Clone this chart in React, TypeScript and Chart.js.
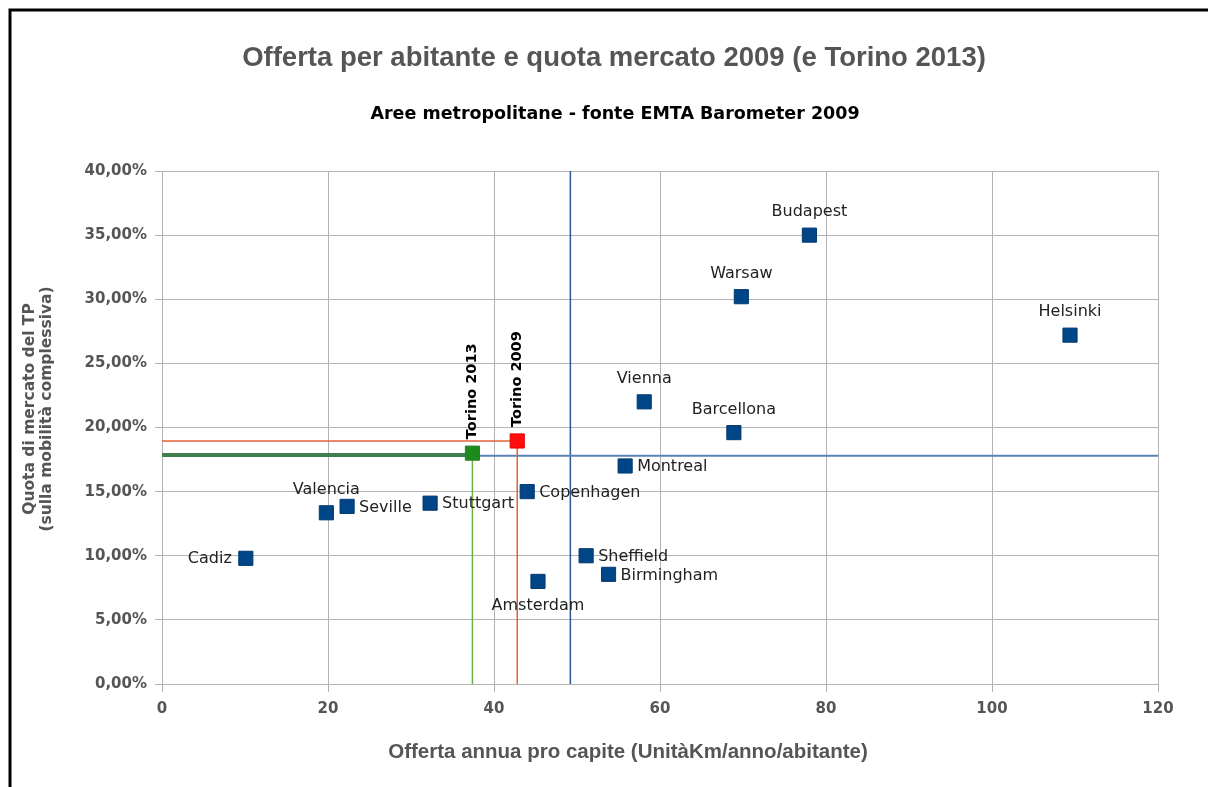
import React, { useEffect, useRef } from 'react';
import { Chart, registerables } from 'chart.js';

Chart.register(...registerables);

// ---- data ----
const cityNames = ['Cadiz', 'Valencia', 'Seville', 'Stuttgart', 'Copenhagen', 'Amsterdam', 'Sheffield', 'Birmingham', 'Montreal', 'Vienna', 'Barcellona', 'Warsaw', 'Budapest', 'Helsinki'];
const cityOffer = [10.1, 19.8, 22.3, 32.3, 44.0, 45.3, 51.1, 53.8, 55.8, 58.1, 68.9, 69.8, 78.0, 109.4];
const cityShare = [9.8, 13.35, 13.85, 14.1, 15.0, 8.0, 10.0, 8.55, 17.0, 22.0, 19.6, 30.2, 35.0, 27.2];

const torino2009 = { name: 'Torino 2009', offer: 42.8, share: 18.95 };
const torino2013 = { name: 'Torino 2013', offer: 37.4, share: 18.0 };
const torino2013LineShare = 17.85;

const avgOffer = 49.2;
const avgShare = 17.8;

const xMin = 0;
const xMax = 120;
const xStep = 20;
const yMin = 0;
const yMax = 40;
const yStep = 5;

const titleText = 'Offerta per abitante e quota mercato 2009 (e Torino 2013)';
const subtitleText = 'Aree metropolitane - fonte EMTA Barometer 2009';
const xTitleText = 'Offerta annua pro capite (UnitàKm/anno/abitante)';
const yTitleLines = ['Quota di mercato del TP', '(sulla mobilità complessiva)'];

// label placement (style)
const labelSide: Record<string, string> = {
  Cadiz: 'left', Valencia: 'top', Seville: 'right', Stuttgart: 'right', Copenhagen: 'right',
  Amsterdam: 'bottom', Sheffield: 'right', Birmingham: 'right', Montreal: 'right', Vienna: 'top',
  Barcellona: 'top', Warsaw: 'top', Budapest: 'top', Helsinki: 'top',
};

const fmtPct = (v: number) => v.toFixed(2).replace('.', ',') + '%';

const decorPlugin = {
  id: 'decor',
  afterDatasetsDraw(chart: any) {
    const ctx = chart.ctx;
    ctx.save();
    // city labels
    const meta = chart.getDatasetMeta(0);
    ctx.font = '16px "DejaVu Sans"';
    ctx.fillStyle = '#222222';
    meta.data.forEach((pt: any, i: number) => {
      const name = cityNames[i];
      const side = labelSide[name] || 'top';
      const x = pt.x, y = pt.y;
      if (side === 'top') {
        ctx.textAlign = 'center'; ctx.textBaseline = 'middle';
        ctx.fillText(name, x, y - 23);
      } else if (side === 'bottom') {
        ctx.textAlign = 'center'; ctx.textBaseline = 'middle';
        ctx.fillText(name, x, y + 24);
      } else if (side === 'right') {
        ctx.textAlign = 'left'; ctx.textBaseline = 'middle';
        ctx.fillText(name, x + 12, y + 1);
      } else {
        ctx.textAlign = 'right'; ctx.textBaseline = 'middle';
        ctx.fillText(name, x - 14, y + 1);
      }
    });
    // Torino labels (rotated)
    ctx.font = 'bold 14.5px "DejaVu Sans"';
    ctx.fillStyle = '#000000';
    [1, 2].forEach((di) => {
      const m = chart.getDatasetMeta(di);
      const pt = m.data[0];
      const label = di === 1 ? torino2009.name : torino2013.name;
      ctx.save();
      ctx.translate(pt.x, pt.y - 14);
      ctx.rotate(-Math.PI / 2);
      ctx.textAlign = 'left';
      ctx.textBaseline = 'middle';
      ctx.fillText(label, 0, 0);
      ctx.restore();
    });
    ctx.restore();
  },
  afterDraw(chart: any) {
    const ctx = chart.ctx;
    ctx.save();
    // frame
    ctx.strokeStyle = '#000000';
    ctx.lineWidth = 3;
    ctx.strokeRect(10, 10, 1400, 1000);
    // title
    ctx.fillStyle = '#555555';
    ctx.font = 'bold 27.5px "Liberation Sans"';
    ctx.textAlign = 'center';
    ctx.textBaseline = 'alphabetic';
    ctx.fillText(titleText, 614, 66);
    // subtitle
    ctx.fillStyle = '#000000';
    ctx.font = 'bold 17.5px "DejaVu Sans"';
    ctx.fillText(subtitleText, 615, 119);
    // x title
    ctx.fillStyle = '#555555';
    ctx.font = 'bold 20.5px "Liberation Sans"';
    ctx.fillText(xTitleText, 628, 758);
    // y title
    ctx.font = 'bold 15.5px "DejaVu Sans"';
    ctx.save();
    ctx.translate(34, 409);
    ctx.rotate(-Math.PI / 2);
    ctx.textAlign = 'center';
    ctx.fillText(yTitleLines[0], 0, 0);
    ctx.fillText(yTitleLines[1], 0, 17);
    ctx.restore();
    ctx.restore();
  },
};

export default function App() {
  const ref = useRef<HTMLCanvasElement>(null);
  useEffect(() => {
    if (!ref.current) return;
    const cityData = cityNames.map((_, i) => ({ x: cityOffer[i], y: cityShare[i] }));
    const lineDs = (data: any[], color: string, width: number) => ({
      data, showLine: true, borderColor: color, borderWidth: width, pointRadius: 0,
      pointHoverRadius: 0, fill: false, tension: 0,
    });
    const chart = new Chart(ref.current, {
      type: 'scatter',
      data: {
        datasets: [
          {
            label: 'Città', data: cityData, pointStyle: 'rect', pointRadius: 10,
            backgroundColor: '#004586', borderColor: '#003a72', borderWidth: 1,
          } as any,
          {
            label: torino2009.name, data: [{ x: torino2009.offer, y: torino2009.share }], pointStyle: 'rect',
            pointRadius: 10, backgroundColor: '#ff0d0d', borderColor: '#e00000', borderWidth: 1,
          },
          {
            label: torino2013.name, data: [{ x: torino2013.offer, y: torino2013.share }], pointStyle: 'rect',
            pointRadius: 10, backgroundColor: '#1d8a1d', borderColor: '#2f7a2f', borderWidth: 1,
          },
          lineDs([{ x: xMin, y: torino2009.share }, { x: torino2009.offer, y: torino2009.share }], '#e5603a', 1.5),
          lineDs([{ x: torino2009.offer, y: yMin }, { x: torino2009.offer, y: torino2009.share }], '#e5603a', 1.5),
          lineDs([{ x: torino2013.offer, y: yMin }, { x: torino2013.offer, y: torino2013.share }], '#6fb040', 1.5),
          lineDs([{ x: xMin, y: torino2013LineShare }, { x: torino2013.offer, y: torino2013LineShare }], '#3f7f4c', 4),
          lineDs([{ x: xMin, y: avgShare }, { x: xMax, y: avgShare }], '#5a82b6', 2),
          lineDs([{ x: avgOffer, y: yMin }, { x: avgOffer, y: yMax }], '#2d5990', 1.5),
        ] as any,
      },
      options: {
        animation: false,
        responsive: false,
        layout: { padding: { left: 0, right: 50, top: 171, bottom: 0 } },
        plugins: { legend: { display: false }, tooltip: { enabled: false }, title: { display: false } },
        scales: {
          x: {
            type: 'linear', min: xMin, max: xMax,
            afterFit: (s: any) => { s.height = 103; },
            ticks: {
              stepSize: xStep, padding: 8, color: '#555555',
              font: { family: 'DejaVu Sans', size: 15, weight: 'bold' },
            },
            grid: { color: '#b3b3b3', lineWidth: 1, tickLength: 8 },
            border: { color: '#b3b3b3' },
          },
          y: {
            type: 'linear', min: yMin, max: yMax,
            afterFit: (s: any) => { s.width = 162; },
            ticks: {
              stepSize: yStep, padding: 8, color: '#555555',
              font: { family: 'DejaVu Sans', size: 15, weight: 'bold' },
              callback: (v: any) => fmtPct(Number(v)),
            },
            grid: { color: '#b3b3b3', lineWidth: 1, tickLength: 7 },
            border: { color: '#b3b3b3' },
          },
        },
      } as any,
      plugins: [decorPlugin],
    });
    return () => chart.destroy();
  }, []);
  return (
    <div style={{ position: 'absolute', left: 0, top: 0, width: 1208, height: 787, background: '#ffffff' }}>
      <canvas ref={ref} width={1208} height={787} style={{ display: 'block' }} />
    </div>
  );
}
